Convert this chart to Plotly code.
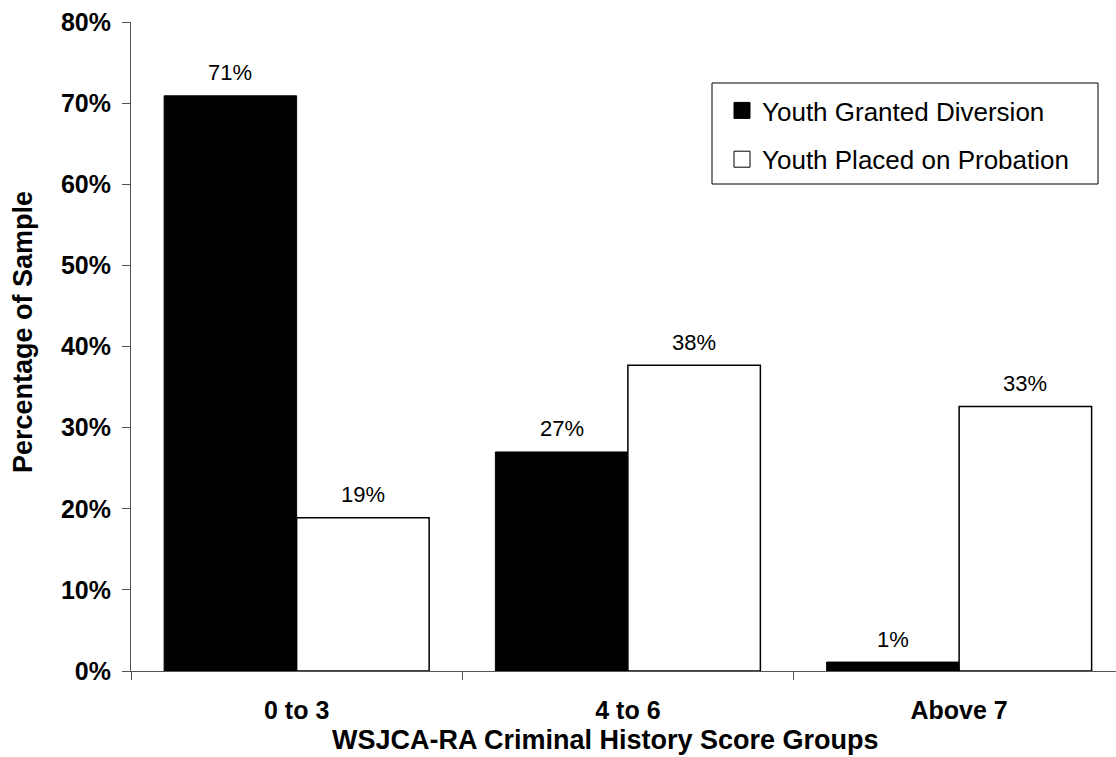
import plotly.graph_objects as go

categories = ["0 to 3", "4 to 6", "Above 7"]
diversion = [70.9, 27.0, 1.1]
probation = [18.9, 37.7, 32.6]
diversion_labels = ["71%", "27%", "1%"]
probation_labels = ["19%", "38%", "33%"]
series_names = ["Youth Granted Diversion", "Youth Placed on Probation"]
y_tick_values = [0, 10, 20, 30, 40, 50, 60, 70, 80]
y_tick_labels = ["0%", "10%", "20%", "30%", "40%", "50%", "60%", "70%", "80%"]
x_title = "WSJCA-RA Criminal History Score Groups"
y_title = "Percentage of Sample"

FONT = "Liberation Sans, Arial, sans-serif"
AXIS_COLOR = "#555555"

# pixel geometry of the plot area
W, H = 1116, 757
ML, MR, MT, MB = 131, 0, 22, 86
PW, PH = W - ML - MR, H - MT - MB


def px_x(p):
    return (p - ML) / PW


def px_y(p):
    return (H - MB - p) / PH


fig = go.Figure()
fig.add_bar(x=categories, y=diversion, name=series_names[0], showlegend=False,
            marker=dict(color="black", line=dict(color="black", width=1)))
fig.add_bar(x=categories, y=probation, name=series_names[1], showlegend=False,
            marker=dict(color="white", line=dict(color="black", width=1.5)))

# legend entries (square swatches)
fig.add_scatter(x=[None], y=[None], mode="markers", name=series_names[0],
                legendgroup="g1",
                marker=dict(symbol="square", size=16, color="black",
                            line=dict(color="black", width=1)))
fig.add_scatter(x=[None], y=[None], mode="markers", name=series_names[1],
                legendgroup="g2",
                marker=dict(symbol="square", size=16, color="white",
                            line=dict(color="black", width=1)))

half = 66.25
for cat, v, t in zip(categories, diversion, diversion_labels):
    fig.add_annotation(x=cat, y=v, xref="x", yref="y", text=t, showarrow=False,
                       xshift=-half, yshift=23, yanchor="middle",
                       font=dict(family=FONT, size=22, color="black"))
for cat, v, t in zip(categories, probation, probation_labels):
    fig.add_annotation(x=cat, y=v, xref="x", yref="y", text=t, showarrow=False,
                       xshift=half, yshift=23, yanchor="middle",
                       font=dict(family=FONT, size=22, color="black"))

# axis titles
fig.add_annotation(x=px_x(605), y=px_y(740), xref="paper", yref="paper",
                   text=x_title, showarrow=False, xanchor="center", yanchor="middle",
                   font=dict(family=FONT, size=27, color="black", weight="bold"))
fig.add_annotation(x=px_x(23), y=px_y(332), xref="paper", yref="paper",
                   text=y_title, showarrow=False, textangle=-90,
                   xanchor="center", yanchor="middle",
                   font=dict(family=FONT, size=27, color="black", weight="bold"))

# legend frame
fig.add_shape(type="rect", xref="paper", yref="paper",
              x0=px_x(712), x1=px_x(1098), y0=px_y(184), y1=px_y(83),
              line=dict(color="black", width=1), fillcolor="rgba(0,0,0,0)")

fig.update_layout(
    width=W, height=H,
    margin=dict(l=ML, r=MR, t=MT, b=MB, pad=0),
    paper_bgcolor="white", plot_bgcolor="white",
    barmode="group", bargap=0.2, bargroupgap=0,
    font=dict(family=FONT, color="black"),
    legend=dict(x=px_x(722), xanchor="left", y=px_y(87), yanchor="top",
                bgcolor="rgba(0,0,0,0)", borderwidth=0,
                font=dict(family=FONT, size=26, color="black"),
                tracegroupgap=12, itemsizing="trace"),
    xaxis=dict(type="category", range=[-0.5, -0.5 + PW / 331.25],
               tickson="boundaries", ticks="outside", ticklen=8,
               tickcolor=AXIS_COLOR, showline=True, linecolor=AXIS_COLOR,
               linewidth=1, showgrid=False, zeroline=False,
               ticklabelstandoff=17,
               tickfont=dict(family=FONT, size=25, color="black", weight="bold")),
    yaxis=dict(range=[0, 80], tickvals=y_tick_values, ticktext=y_tick_labels,
               ticks="outside", ticklen=8, tickcolor=AXIS_COLOR,
               showline=True, linecolor=AXIS_COLOR, linewidth=1,
               showgrid=False, zeroline=False, ticklabelstandoff=6,
               tickfont=dict(family=FONT, size=25, color="black", weight="bold")),
)

fig.write_html("out.html")
